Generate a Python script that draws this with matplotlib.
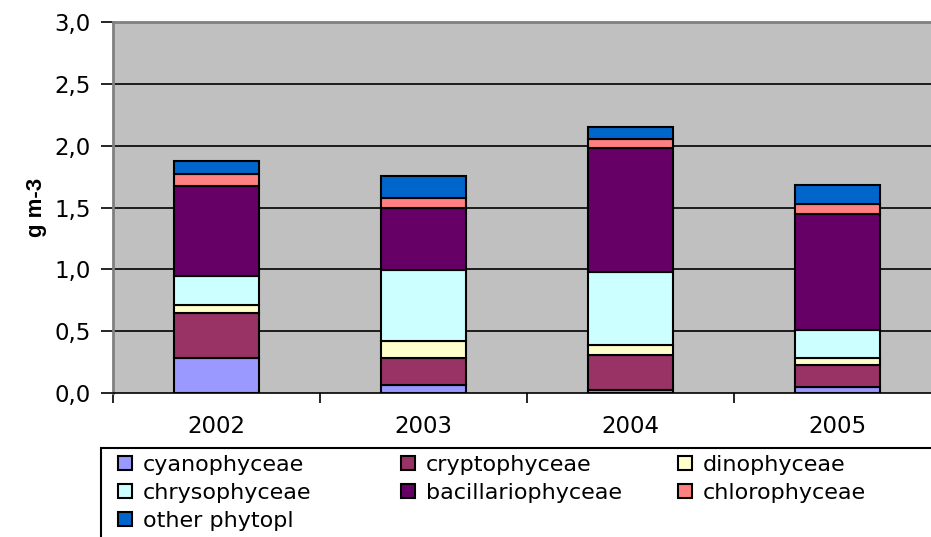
import matplotlib
matplotlib.use("Agg")
import matplotlib.pyplot as plt
from matplotlib.patches import Rectangle, Patch
import numpy as np

plt.rcParams['font.family'] = ['DejaVu Sans']

years = ["2002", "2003", "2004", "2005"]
groups = ["cyanophyceae", "cryptophyceae", "dinophyceae", "chrysophyceae",
          "bacillariophyceae", "chlorophyceae", "other phytopl"]
cyanophyceae = [0.28, 0.065, 0.025, 0.05]
cryptophyceae = [0.37, 0.215, 0.285, 0.175]
dinophyceae = [0.06, 0.14, 0.08, 0.055]
chrysophyceae = [0.24, 0.575, 0.585, 0.23]
bacillariophyceae = [0.72, 0.50, 1.005, 0.94]
chlorophyceae = [0.10, 0.08, 0.07, 0.08]
other_phytopl = [0.11, 0.18, 0.10, 0.15]
series = [cyanophyceae, cryptophyceae, dinophyceae, chrysophyceae,
          bacillariophyceae, chlorophyceae, other_phytopl]
colors = ["#9999FF", "#993366", "#FFFFCC", "#CCFFFF", "#660066", "#FF8080", "#0066CC"]
yticks = [0.0, 0.5, 1.0, 1.5, 2.0, 2.5, 3.0]
ytick_labels = ["0,0", "0,5", "1,0", "1,5", "2,0", "2,5", "3,0"]

W, H = 931, 537
FS = 16.5
LFS = 16
fig = plt.figure(figsize=(W / 100, H / 100), dpi=100)
# plot area runs on past the right edge of the figure
ax = fig.add_axes([113 / W, 1 - 393 / H, 828 / W, (393 - 22) / H])
ax.set_facecolor("#C0C0C0")

x = np.arange(len(years))
bottom = np.zeros(len(years))
handles = []
for vals, col, name in zip(series, colors, groups):
    ax.bar(x, vals, width=0.406, bottom=bottom, color=col, edgecolor="black",
           linewidth=1.5, zorder=3)
    bottom += np.array(vals)
    handles.append(Patch(facecolor=col, edgecolor="black", linewidth=1.5, label=name))

ax.set_xlim(-0.5, len(years) - 0.5)
ax.set_ylim(0, 3.0)
ax.set_yticks(yticks)
ax.set_yticklabels(ytick_labels, fontsize=FS)
for yv in yticks[1:-1]:
    ax.axhline(yv, color="black", linewidth=1.2, zorder=1)

ax.set_xticks(x)
ax.set_xticklabels(years, fontsize=FS)
ax.tick_params(axis="x", length=0, pad=16)
ax.set_xticks(np.arange(-0.5, len(years) + 0.5, 1.0), minor=True)
ax.tick_params(axis="x", which="minor", length=7, width=1.2, direction="out")
ax.tick_params(axis="y", length=9, width=1.2, direction="out", pad=7)

ax.spines["right"].set_visible(False)
ax.spines["top"].set_color("#808080")
ax.spines["top"].set_linewidth(2)
ax.spines["left"].set_color("#808080")
ax.spines["left"].set_linewidth(2)
ax.spines["bottom"].set_color("black")
ax.spines["bottom"].set_linewidth(1.2)

ax.set_ylabel("g m-3", fontsize=16, fontweight="bold", family="Liberation Sans",
              labelpad=5)

# legend frame, open to the right and bottom edges
fig.patches.append(Rectangle((101 / W, -0.05), (W - 101 + 10) / W, 1.05 - 448 / H,
                             transform=fig.transFigure, facecolor="white",
                             edgecolor="black", linewidth=1.5, zorder=0))

cols = [[0, 3, 6], [1, 4], [2, 5]]
col_x = [118, 401, 678]
for idx, cx in zip(cols, col_x):
    fig.legend([handles[i] for i in idx], [groups[i] for i in idx],
               loc="upper left", bbox_to_anchor=(cx / W, 1 - 455 / H),
               frameon=False, fontsize=LFS, handlelength=0.62, handleheight=0.62,
               handletextpad=0.5, labelspacing=0.36, borderpad=0.0,
               borderaxespad=0.0)

fig.savefig("out.png", dpi=100)
